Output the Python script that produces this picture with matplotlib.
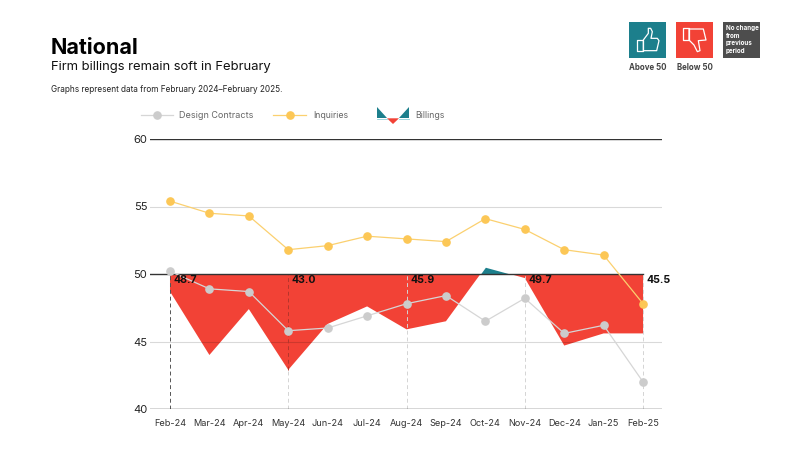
import matplotlib
matplotlib.use('Agg')
import matplotlib.pyplot as plt
from matplotlib.patches import Polygon, Rectangle
import numpy as np

plt.rcParams['font.family'] = ['Inter', 'DejaVu Sans']

months = ['Feb-24', 'Mar-24', 'Apr-24', 'May-24', 'Jun-24', 'Jul-24', 'Aug-24',
          'Sep-24', 'Oct-24', 'Nov-24', 'Dec-24', 'Jan-25', 'Feb-25']
billings = [48.7, 44.0, 47.4, 42.9, 46.3, 47.6, 45.9, 46.5, 50.5, 49.7, 44.7, 45.6, 45.6]
design = [50.2, 48.9, 48.7, 45.8, 46.0, 46.9, 47.8, 48.4, 46.5, 48.2, 45.6, 46.2, 42.0]
inquiries = [55.4, 54.5, 54.3, 51.8, 52.1, 52.8, 52.6, 52.4, 54.1, 53.3, 51.8, 51.4, 47.8]
y_ticks = [40, 45, 50, 55, 60]

# months that get a dropline and the value shown next to it
callouts = {0: '48.7', 3: '43.0', 6: '45.9', 9: '49.7', 12: '45.5'}

RED = '#f24236'
TEAL = '#1c7f8c'
GREY = '#cccccc'
YELLOW = '#fcc756'
TEXT = '#111111'

W, H = 800, 450
fig = plt.figure(figsize=(W / 100, H / 100), dpi=100)

# overlay in pixel coordinates for the header, legend and icons
deco = fig.add_axes([0, 0, 1, 1], zorder=3)
deco.set_xlim(0, W)
deco.set_ylim(H, 0)
deco.axis('off')

ax = fig.add_axes([150 / W, 1 - 409 / H, 512 / W, 270 / H], zorder=2)
ax.patch.set_alpha(0)

x = np.arange(len(months))
ax.set_xlim(-0.507, 12.48)
ax.set_ylim(40, 60)

# grid lines, the light ones show faintly through the red area
for y in (45, 55):
    ax.axhline(y, color='black', alpha=0.15, lw=0.8, zorder=3)
for y in (40, 60):
    ax.axhline(y, color='#333333', lw=1.0, zorder=4)
ax.plot([-0.507, 12], [50, 50], color='#333333', lw=1.0, zorder=4)

# billings area: red under 50, teal over it
bill = np.array(billings)
ax.fill_between(x, bill, 50, where=bill <= 50, interpolate=True, color=RED, lw=0, zorder=2)
ax.fill_between(x, bill, 50, where=bill >= 50, interpolate=True, color=TEAL, lw=0, zorder=2)

# droplines
for i in callouts:
    color = '#555555' if i == 0 else '#d4d4d4'
    if i == 3:
        ax.plot([i, i], [40, billings[i]], color='#d4d4d4', lw=0.7, ls=(0, (4, 3)), zorder=3)
        ax.plot([i, i], [billings[i], 50], color='#b5352b', lw=0.7, ls=(0, (4, 3)), zorder=3)
    else:
        ax.plot([i, i], [40, 50], color=color, lw=0.7, ls=(0, (4, 3)), zorder=3)

ax.plot(x, design, color='#d6d6d6', lw=0.9, marker='o', ms=5.2, mfc=GREY, mec=GREY, zorder=5)
ax.plot(x, inquiries, color='#fbd06f', lw=0.9, marker='o', ms=5.2, mfc=YELLOW, mec=YELLOW, zorder=5)

for i, label in callouts.items():
    ax.text(i + 0.09, 49.55, label, fontsize=7.6, fontweight='bold', color=TEXT, va='center', ha='left', zorder=6)

for s in ax.spines.values():
    s.set_visible(False)
ax.set_xticks(x)
ax.set_xticklabels(months, fontsize=6.6, color='#333333')
ax.set_yticks(y_ticks)
ax.set_yticklabels(y_ticks, fontsize=8, color='#222222')
ax.tick_params(length=0)
ax.tick_params(axis='x', pad=7)
ax.tick_params(axis='y', pad=2)

# header
deco.text(51, 47.5, 'National', fontsize=15.5, fontweight='bold', color='#000000', va='center')
deco.text(51, 67, 'Firm billings remain soft in February', fontsize=9.4, color='#111111', va='center')
deco.text(51, 89, 'Graphs represent data from February 2024\u2013February 2025.', fontsize=5.9, color='#222222', va='center')

# legend
deco.plot([141, 173], [115, 115], color='#d6d6d6', lw=0.9)
deco.plot([157], [115], 'o', ms=5.2, color=GREY)
deco.text(179, 115.5, 'Design Contracts', fontsize=6.5, color='#666666', va='center')
deco.plot([273, 306], [115, 115], color='#fbd06f', lw=0.9)
deco.plot([290], [115], 'o', ms=5.2, color=YELLOW)
deco.text(313, 115.5, 'Inquiries', fontsize=6.3, color='#666666', va='center')
deco.add_patch(Polygon([(377, 107), (377, 118.3), (387, 118.3)], color=TEAL, lw=0))
deco.add_patch(Polygon([(409, 107), (409, 118.3), (399, 118.3)], color=TEAL, lw=0))
deco.add_patch(Polygon([(387, 118.3), (399, 118.3), (393, 124)], color=RED, lw=0))
deco.plot([377, 387], [118.8, 118.8], color='#8fd0d8', lw=0.6)
deco.plot([399, 409], [118.8, 118.8], color='#8fd0d8', lw=0.6)
deco.text(415, 115.5, 'Billings', fontsize=6.3, color='#666666', va='center')

# icon tiles
deco.add_patch(Rectangle((629, 21.5), 37, 36.5, color=TEAL, lw=0))
deco.add_patch(Rectangle((676, 21.5), 37, 36.5, color=RED, lw=0))
deco.add_patch(Rectangle((723, 21.5), 37, 36.5, color='#4d4d4d', lw=0))


def zoom_pts(pts):
    return [(620 + px / 3, 10 + py / 3) for px, py in pts]


thumb_up = [(70, 90), (85, 70), (85, 55), (92, 55), (97, 65), (93, 85), (112, 85),
            (117, 92), (110, 122), (70, 122)]
cuff_up = [(50, 90), (70, 90), (70, 122), (50, 122)]
thumb_down = [(207, 57), (250, 57), (258, 90), (235, 92), (240, 122), (232, 125),
              (222, 105), (207, 90)]
cuff_down = [(190, 55), (207, 55), (207, 90), (190, 90)]
for shape in (thumb_up, cuff_up, thumb_down, cuff_down):
    deco.add_patch(Polygon(zoom_pts(shape), closed=True, fill=False, ec='white', lw=0.9, joinstyle='round'))

deco.text(647.5, 67, 'Above 50', fontsize=5.7, fontweight='bold', color='#444444', ha='center', va='center')
deco.text(694.5, 67, 'Below 50', fontsize=5.7, fontweight='bold', color='#444444', ha='center', va='center')
deco.text(726, 39.5, 'No change\nfrom\nprevious\nperiod', fontsize=4.5, fontweight='bold', color='white',
          va='center', linespacing=1.35)

fig.savefig('out.png', dpi=100)
